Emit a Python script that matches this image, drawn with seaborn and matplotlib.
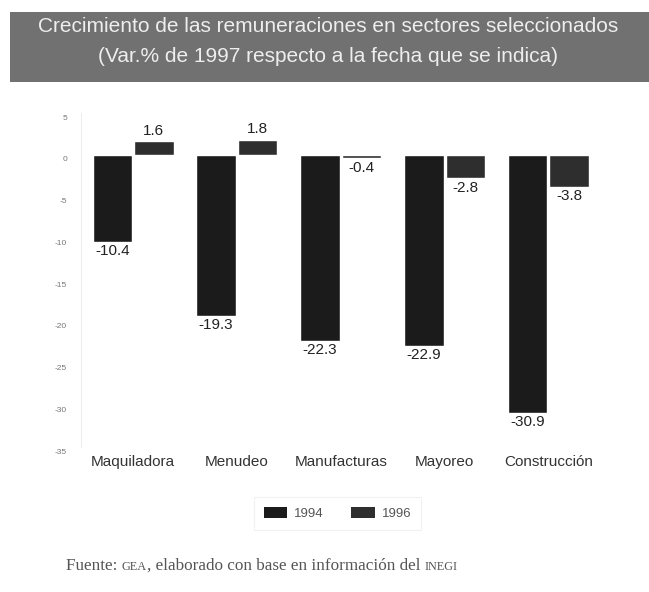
import matplotlib
matplotlib.use("Agg")
import matplotlib.pyplot as plt
import matplotlib.transforms as mtransforms
import seaborn as sns
import pandas as pd
from matplotlib.patches import Rectangle, Patch

categories = ["Maquiladora", "Menudeo", "Manufacturas", "Mayoreo", "Construcción"]
years = ["1994", "1996"]
values_1994 = [-10.4, -19.3, -22.3, -22.9, -30.9]
values_1996 = [1.6, 1.8, -0.4, -2.8, -3.8]
yticks = [5, 0, -5, -10, -15, -20, -25, -30, -35]

df = pd.DataFrame({
    "sector": categories * 2,
    "year": [years[0]] * 5 + [years[1]] * 5,
    "value": values_1994 + values_1996,
})

sns.set_style("white")
plt.rcParams["font.family"] = ["Liberation Sans", "DejaVu Sans"]

fig = plt.figure(figsize=(6.49, 5.92), dpi=100)
ax = fig.add_axes([0.125, 0.245, 0.80, 0.564])

palette = {"1994": "#1b1b1b", "1996": "#2e2e2e"}
sns.barplot(data=df, x="sector", y="value", hue="year", palette=palette,
            order=categories, hue_order=years, width=0.8, gap=0.05,
            ax=ax, legend=False, saturation=1)

ax.set_ylim(-35, 5)
ax.set_xlim(-0.5, 4.5)
ax.set_yticks(yticks)
ax.set_yticklabels([str(t) for t in yticks], fontsize=6, color="#777777")
ax.tick_params(axis="y", length=6, color="#dddddd", width=0.8, pad=4)
shift = mtransforms.ScaledTranslation(0, -3 / 72, fig.dpi_scale_trans)
for lbl in ax.get_yticklabels():
    lbl.set_transform(lbl.get_transform() + shift)
ax.tick_params(axis="x", length=0, pad=6, labelsize=11, labelcolor="#333333")
ax.set_xlabel("")
ax.set_ylabel("")
for s in ["top", "right", "bottom"]:
    ax.spines[s].set_visible(False)
ax.spines["left"].set_color("#eeeeee")
ax.spines["left"].set_linewidth(0.8)

for cont in ax.containers:
    for bar in cont:
        h = bar.get_height()
        xc = bar.get_x() + bar.get_width() / 2
        if h >= 0:
            ax.text(xc, h + 0.4, f"{h:.1f}", ha="center", va="bottom",
                    fontsize=11, color="#222222")
        else:
            ax.text(xc, h - 0.3, f"{h:.1f}", ha="center", va="top",
                    fontsize=11, color="#222222")

# Title banner
fig.patches.append(Rectangle((0.015, 0.862), 0.985, 0.118, transform=fig.transFigure,
                             facecolor="#717171", edgecolor="none", zorder=0))
fig.text(0.505, 0.956, "Crecimiento de las remuneraciones en sectores seleccionados",
         ha="center", va="center", fontsize=15, color="#eeeeee")
fig.text(0.505, 0.904, "(Var.% de 1997 respecto a la fecha que se indica)",
         ha="center", va="center", fontsize=15, color="#eeeeee")

# Legend
handles = [Patch(facecolor=palette[y], edgecolor="none") for y in years]
leg = fig.legend(handles, years, loc="center", bbox_to_anchor=(0.52, 0.132),
                 ncol=2, frameon=True, fontsize=9.5, handlelength=1.8, handleheight=0.9,
                 handletextpad=0.5, columnspacing=2.1, borderpad=0.75, fancybox=False,
                 labelcolor="#555555")
leg.get_frame().set_edgecolor("#eeeeee")
leg.get_frame().set_linewidth(0.8)

# Source note with small caps acronyms
serif = ["Liberation Serif", "DejaVu Serif"]
base_y = 0.038
t1 = fig.text(0.102, base_y, "Fuente: ", ha="left", va="baseline", fontsize=12.3,
              color="#555555", family=serif)
t2 = fig.text(0, 0, "GEA", fontsize=8.8, color="#555555", family=serif,
              va="baseline", ha="left")
t3 = fig.text(0, 0, ", elaborado con base en información del ", fontsize=12.3,
              color="#555555", family=serif, va="baseline", ha="left")
t4 = fig.text(0, 0, "INEGI", fontsize=8.8, color="#555555", family=serif,
              va="baseline", ha="left")
fig.canvas.draw()
r = fig.canvas.get_renderer()
inv = fig.transFigure.inverted()
prev = t1
for t in (t2, t3, t4):
    bb = prev.get_window_extent(r)
    x1 = inv.transform((bb.x1, 0))[0]
    t.set_position((x1, base_y))
    fig.canvas.draw()
    prev = t

fig.savefig("out.png", dpi=100)
